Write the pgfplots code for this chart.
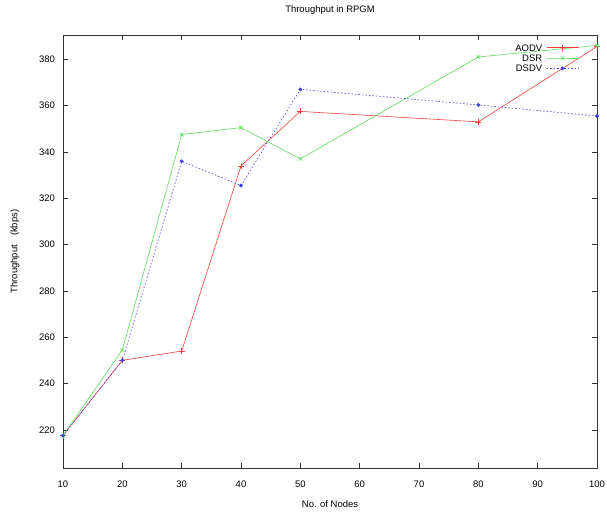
\documentclass[border=0pt]{standalone}
\usepackage{fontspec}
\setmainfont{Liberation Sans}
\usepackage{pgfplots}
\pgfplotsset{compat=1.18}
\definecolor{gpred}{rgb}{0.95,0.25,0.25}
\definecolor{gpgreen}{rgb}{0.35,0.88,0.35}
\definecolor{gpblue}{rgb}{0.25,0.25,0.9}
\begin{document}
\begin{tikzpicture}
\begin{axis}[
  scale only axis, width=534bp, height=433bp,
  xmin=10, xmax=100, ymin=203.5, ymax=390.5,
  xtick={10,20,...,100}, ytick={220,240,...,380},
  tick align=inside, major tick length=5bp,
  tick style={black!80, line width=0.5pt},
  axis line style={black!80, line width=0.8pt},
  /pgf/number format/assume math mode=true,
  font=\fontsize{9.5}{11}\selectfont,
  yticklabel style={anchor=east, inner sep=0pt, xshift=-8bp},
  xticklabel style={anchor=north, inner sep=0pt, yshift=-13bp},
  title={Throughput in RPGM},
  title style={at={(axis description cs:0.5,1)}, anchor=south, inner sep=0pt, yshift=14bp},
  xlabel={No. of Nodes},
  xlabel style={at={(axis description cs:0.5,0)}, anchor=north, inner sep=0pt, yshift=-32bp},
  ylabel={Throughput\hspace{9bp}(kbps)},
  ylabel style={at={(axis description cs:-0.0899,0.5)}, anchor=center, inner sep=0pt},
  legend plot pos=right,
  legend cell align=right,
  legend style={draw=none, fill=none, at={(axis description cs:1,1)}, anchor=north east,
    xshift=-18bp, yshift=-9bp, inner sep=0pt, row sep=3.3bp, column sep=4bp,
    nodes={inner sep=0pt, text height=7bp, text depth=0bp}},
  legend image code/.code={\draw[mark repeat=2, mark phase=2] plot coordinates {(0bp,0bp) (16bp,0bp) (32bp,0bp)};},
]
\addplot[gpred, line width=0.6pt, mark=+, mark size=3bp] coordinates {
  (10,217.5) (20,250) (30,254) (40,334) (50,357.5) (80,353) (100,385.5)};
\addlegendentry{AODV}
\addplot[gpgreen, line width=0.6pt, mark=x, mark size=2.5bp] coordinates {
  (10,217.5) (20,254.5) (30,347.5) (40,350.5) (50,337) (80,381) (100,386)};
\addlegendentry{DSR}
\addplot[gpblue, line width=0.6pt, dash pattern=on 1.5bp off 2bp, mark=*, mark size=1.6bp, mark options={solid}] coordinates {
  (10,217.5) (20,250) (30,336) (40,325.5) (50,367) (80,360.3) (100,355.5)};
\addlegendentry{DSDV}
\end{axis}
\pgfresetboundingbox
\path ([shift={(-63bp,-47bp)}]current axis.south west) rectangle ([shift={(10bp,35bp)}]current axis.north east);
\end{tikzpicture}
\end{document}
